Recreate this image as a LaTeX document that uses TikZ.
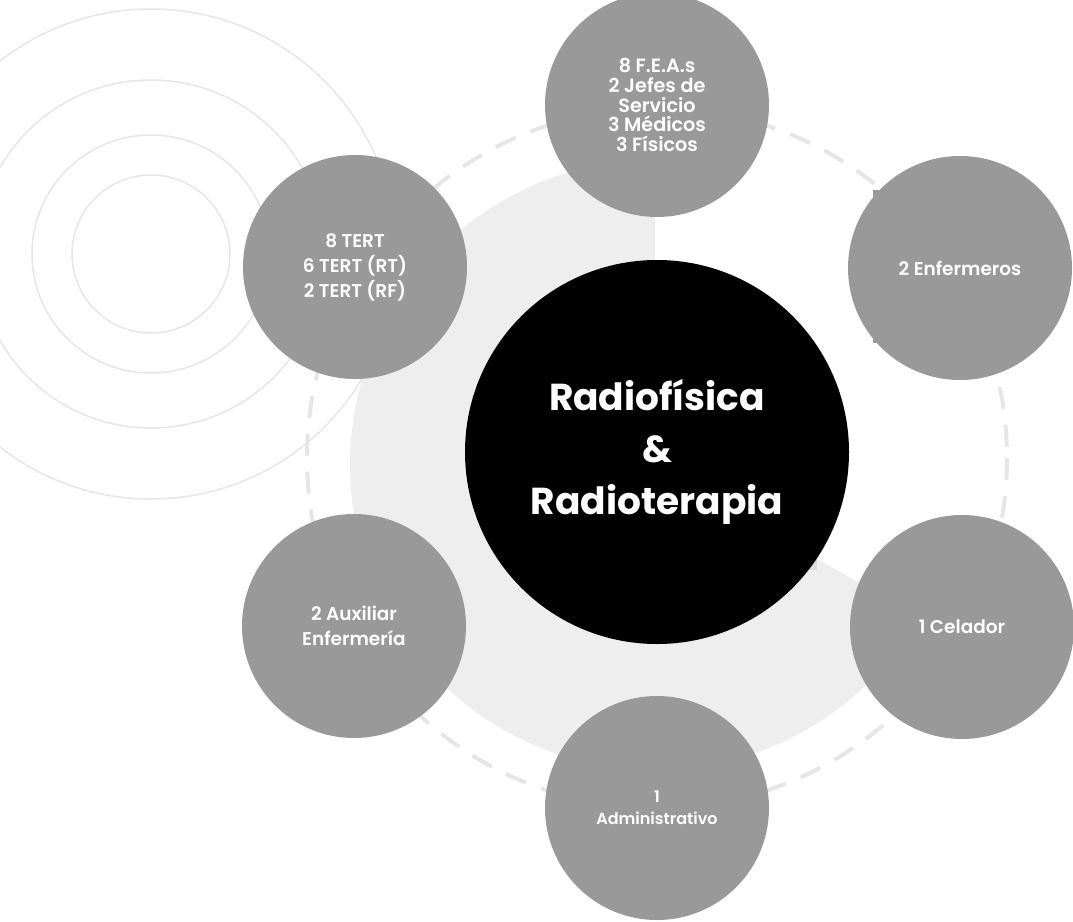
\documentclass[tikz,border=0pt]{standalone}
\usepackage{fontspec}
\setmainfont{Poppins}[BoldFont={Poppins SemiBold}]
\newfontfamily\heavyfont{Poppins}[UprightFont={Poppins Bold}]
\definecolor{satgray}{HTML}{999999}
\definecolor{discgray}{HTML}{EEEEEE}
\definecolor{discdark}{HTML}{DCDCDC}
\definecolor{ringgray}{HTML}{E6E6E6}

\begin{document}
\begin{tikzpicture}[
        x=1pt, y=-1pt,
        every node/.style={font=\bfseries, align=center, text=white},
        satellite/.style={circle, fill=satgray, minimum size=224pt, inner sep=0pt, font=\bfseries\fontsize{18.5}{25}\selectfont},
        core/.style={circle, fill=black, minimum size=384pt, inner sep=0pt, font=\heavyfont\fontsize{37.5}{52}\selectfont},
        ring/.style={draw=ringgray, line width=1.5pt},
        orbit/.style={draw=ringgray, line width=4pt, dash pattern=on 22pt off 16pt}
    ]
    \useasboundingbox (0,0) rectangle (1073,921);
    % Background
    \foreach \r in {79,119,174,245}
        \draw[ring] (151,254) circle[radius=\r];
    \fill[discgray] (655,465) -- ++(-90:305) arc[start angle=-90, end angle=-330, radius=305] -- cycle;
    \fill[discdark] (507,360) rectangle (817,570);
    \draw[orbit] (657,458) circle[radius=350];
    \fill[satgray] (873,190) rectangle (960,343);
    % Nodes
    \node[core] (core) at (657,452) {Radiofísica\\\&\\Radioterapia};
    \node[satellite, font=\bfseries\fontsize{19.2}{19.8}\selectfont] (feas) at (657,105) {8 F.E.A.s\\2 Jefes de\\Servicio\\3 Médicos\\3 Físicos};
    \node[satellite] (tert) at (355,267) {8 TERT\\6 TERT (RT)\\2 TERT (RF)};
    \node[satellite] (enf) at (960,268) {2 Enfermeros};
    \node[satellite] (celador) at (962,627) {1 Celador};
    \node[satellite, font=\bfseries\fontsize{16}{22}\selectfont] (admin) at (657,808) {1\\Administrativo};
    \node[satellite] (aux) at (354,626) {2 Auxiliar\\Enfermería};
\end{tikzpicture}
\end{document}
